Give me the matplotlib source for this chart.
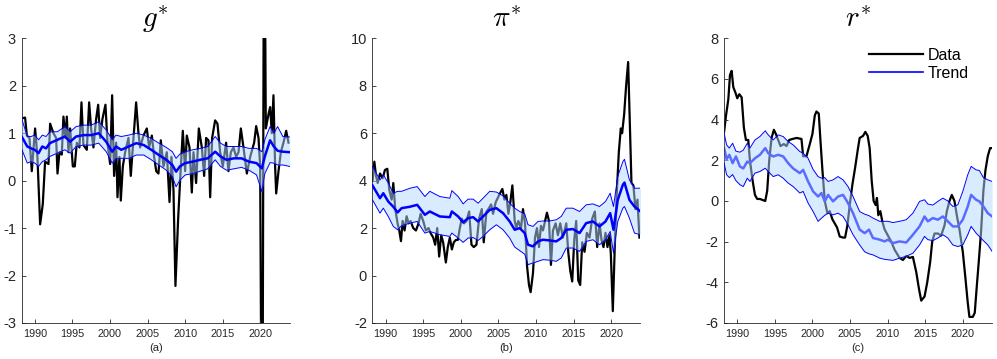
import matplotlib
matplotlib.use('Agg')
import matplotlib.pyplot as plt
from matplotlib.lines import Line2D

plt.rcParams['font.family'] = ['Liberation Sans', 'DejaVu Sans']
plt.rcParams['mathtext.fontset'] = 'cm'

# ---------------- g* (panel a) ----------------
g_years = [1988.25, 1988.71, 1988.94, 1989.29, 1989.60, 1990.04, 1990.35, 1990.71, 1991.06, 1991.37,
           1991.82, 1992.04, 1992.48, 1992.84, 1993.02, 1993.28, 1993.59, 1993.81, 1994.08, 1994.26,
           1994.48, 1994.70, 1995.06, 1995.32, 1995.59, 1995.94, 1996.21, 1996.47, 1996.92, 1997.23,
           1997.49, 1997.80, 1998.16, 1998.43, 1998.69, 1999.00, 1999.40, 1999.67, 2000.02, 2000.29,
           2000.55, 2000.82, 2001.00, 2001.26, 2001.44, 2001.71, 2002.02, 2002.46, 2002.77, 2003.13,
           2003.48, 2003.79, 2004.01, 2004.46, 2004.90, 2005.21, 2005.57, 2005.88, 2006.15, 2006.45,
           2006.76, 2007.12, 2007.56, 2007.92, 2008.18, 2008.45, 2008.71, 2009.07, 2009.33, 2009.69,
           2010.00, 2010.22, 2010.58, 2010.89, 2011.11, 2011.46, 2011.82, 2012.22, 2012.53, 2012.79,
           2013.10, 2013.33, 2013.59, 2013.99, 2014.30, 2014.66, 2015.01, 2015.45, 2015.76, 2016.08,
           2016.43, 2016.79, 2017.10, 2017.41, 2017.76, 2018.21, 2018.65, 2019.18, 2019.45, 2019.76,
           2019.98, 2020.25, 2020.51, 2020.73, 2021.09, 2021.31, 2021.53, 2021.75, 2021.97, 2022.11,
           2022.42, 2022.73, 2023.08, 2023.44, 2023.75]
g_data = [1.31, 1.33, 0.95, 0.90, 0.20, 1.10, 0.50, -0.92, -0.50, 0.40,
          0.35, 1.20, 1.00, 0.90, 0.15, 0.60, 0.55, 1.35, 0.90, 1.35,
          0.60, 1.10, 0.30, 0.30, 0.80, 0.70, 1.65, 0.75, 0.65, 1.65,
          1.10, 0.70, 1.30, 1.60, 0.90, 1.30, 1.60, 0.80, 0.35, 1.80,
          0.10, 0.80, -0.35, 0.50, -0.42, 0.30, 0.60, 0.90, 0.10, 0.90,
          1.65, 1.00, 0.70, 0.95, 1.10, 0.70, 0.95, 0.50, 0.20, 0.15,
          0.85, 0.30, 0.60, -0.45, 0.50, -0.20, -2.22, -0.80, 0.00, 1.05,
          0.20, 0.95, 0.70, -0.25, 0.60, -0.05, 1.10, 0.70, 0.10, 0.90,
          0.85, -0.35, 0.90, 1.27, 1.20, 0.60, 0.30, 0.80, 0.20, 0.60,
          0.70, 0.50, 0.60, 1.10, 0.70, 0.15, 0.50, 0.80, 1.15, 0.90,
          0.30, -8.00, 7.50, 1.10, 1.40, 1.55, 1.00, 1.80, 0.30, -0.27,
          0.20, 0.60, 0.80, 1.05, 0.80]
g_band_years = [1988.25, 1989.0, 1989.5, 1990.0, 1990.5, 1991.0, 1991.5, 1992.0, 1993.0, 1994.0,
                1994.7, 1995.5, 1996.5, 1997.5, 1998.5, 1999.5, 2000.3, 2000.8, 2001.5, 2002.5,
                2003.5, 2004.5, 2005.5, 2006.5, 2007.5, 2008.3, 2008.8, 2009.3, 2010.0, 2011.0,
                2012.0, 2013.0, 2014.0, 2014.7, 2015.5, 2016.5, 2017.5, 2018.5, 2019.5, 2020.2,
                2020.6, 2021.3, 2021.8, 2022.3, 2023.0, 2023.9]
g_trend = [0.93, 0.72, 0.68, 0.65, 0.58, 0.72, 0.68, 0.79, 0.86, 0.93,
           0.82, 0.93, 0.96, 0.96, 1.00, 0.82, 0.61, 0.72, 0.65, 0.72,
           0.79, 0.75, 0.65, 0.54, 0.44, 0.33, 0.19, 0.30, 0.37, 0.40,
           0.44, 0.47, 0.61, 0.51, 0.44, 0.47, 0.47, 0.40, 0.37, 0.26,
           0.51, 0.85, 0.72, 0.63, 0.61, 0.60]
g_upper = [1.31, 0.93, 0.93, 0.96, 0.86, 0.96, 0.93, 1.03, 1.03, 1.14,
           1.03, 1.14, 1.17, 1.17, 1.24, 1.07, 0.86, 0.96, 0.93, 0.96,
           1.00, 0.96, 0.89, 0.79, 0.70, 0.61, 0.47, 0.56, 0.61, 0.65,
           0.68, 0.72, 0.93, 0.79, 0.72, 0.72, 0.72, 0.68, 0.68, 0.61,
           0.86, 1.14, 1.00, 1.14, 0.93, 0.92]
g_lower = [0.67, 0.37, 0.40, 0.37, 0.30, 0.40, 0.44, 0.51, 0.58, 0.65,
           0.58, 0.72, 0.75, 0.75, 0.79, 0.61, 0.37, 0.47, 0.47, 0.47,
           0.54, 0.54, 0.44, 0.33, 0.22, 0.08, -0.13, 0.01, 0.12, 0.15,
           0.20, 0.25, 0.44, 0.30, 0.22, 0.25, 0.28, 0.22, 0.12, -0.23,
           0.15, 0.38, 0.37, 0.33, 0.33, 0.30]

# ---------------- pi* (panel b) ----------------
pi_years = [1988.27, 1988.50, 1988.72, 1988.94, 1989.25, 1989.60, 1989.91, 1990.22, 1990.49, 1990.80,
            1991.02, 1991.28, 1991.59, 1991.81, 1992.04, 1992.26, 1992.52, 1992.79, 1993.05, 1993.32,
            1993.67, 1994.03, 1994.38, 1994.65, 1995.00, 1995.35, 1995.71, 1995.97, 1996.33, 1996.59,
            1996.86, 1997.12, 1997.39, 1997.65, 1998.01, 1998.27, 1998.54, 1998.81, 1999.07, 1999.34,
            1999.60, 1999.87, 2000.13, 2000.44, 2000.75, 2001.11, 2001.42, 2001.73, 2002.08, 2002.43,
            2002.79, 2003.05, 2003.41, 2003.67, 2004.03, 2004.29, 2004.65, 2004.96, 2005.27, 2005.53,
            2005.80, 2006.06, 2006.33, 2006.59, 2006.86, 2007.17, 2007.39, 2007.65, 2008.01, 2008.27,
            2008.54, 2008.81, 2009.07, 2009.29, 2009.60, 2009.87, 2010.13, 2010.40, 2010.66, 2010.93,
            2011.28, 2011.46, 2011.73, 2011.99, 2012.26, 2012.61, 2012.92, 2013.23, 2013.58, 2014.03,
            2014.29, 2014.56, 2014.82, 2015.09, 2015.35, 2015.62, 2015.88, 2016.15, 2016.46, 2016.77,
            2017.12, 2017.48, 2017.83, 2018.14, 2018.45, 2018.72, 2018.98, 2019.25, 2019.51, 2019.78,
            2019.96, 2020.22, 2020.49, 2020.75, 2021.02, 2021.28, 2021.46, 2021.73, 2021.99, 2022.26,
            2022.52, 2022.70, 2022.96, 2023.23, 2023.50, 2023.76]
pi_data = [4.0, 4.8, 4.2, 3.9, 4.3, 4.1, 4.45, 4.5, 3.6, 3.2,
           3.9, 2.8, 2.2, 1.9, 1.45, 2.3, 1.9, 2.5, 2.2, 2.3,
           2.0, 1.9, 2.2, 2.6, 2.3, 1.9, 2.0, 1.8, 1.6, 1.3,
           2.0, 0.8, 1.7, 1.4, 0.55, 1.2, 1.6, 1.1, 1.4, 1.5,
           1.5, 2.0, 2.4, 2.2, 2.3, 2.7, 1.3, 1.2, 1.3, 2.4,
           2.8, 1.4, 2.7, 2.8, 3.0, 2.6, 3.1, 3.3, 3.5, 3.65,
           3.2, 3.4, 2.6, 3.1, 3.8, 2.3, 2.0, 2.3, 2.0, 2.8,
           2.2, 0.4, -0.4, -0.7, 0.1, 1.6, 2.0, 1.2, 2.1, 1.9,
           2.4, 2.65, 2.3, 0.45, 1.9, 2.2, 1.7, 2.2, 1.6, 2.2,
           1.0, 0.2, -0.25, 1.5, 2.3, -0.2, -0.4, 1.4, 1.0, 1.8,
           1.6, 2.4, 2.7, 1.2, 2.2, 1.5, 1.2, 1.8, 1.2, 1.7,
           0.9, -1.5, 1.3, 3.5, 5.2, 6.2, 6.0, 6.8, 8.0, 9.0,
           6.0, 3.9, 3.8, 2.8, 3.2, 1.6]
pi_band_years = [1988.25, 1989.25, 1989.69, 1990.35, 1991.02, 1991.59, 1992.12, 1993.23, 1994.20, 1995.22,
                 1995.88, 1997.21, 1998.54, 1998.81, 1999.65, 2000.31, 2000.97, 2001.64, 2002.30, 2002.96,
                 2003.85, 2004.73, 2005.62, 2006.50, 2007.17, 2007.83, 2008.50, 2008.94, 2009.60, 2010.27,
                 2010.93, 2011.81, 2012.70, 2013.36, 2014.03, 2014.91, 2015.80, 2016.68, 2017.57, 2018.45,
                 2019.25, 2019.87, 2020.31, 2020.88, 2021.55, 2021.77, 2022.43, 2023.10, 2023.90]
pi_trend = [3.80, 3.26, 3.47, 3.12, 2.90, 2.66, 2.84, 2.90, 2.98, 2.56,
            2.70, 2.49, 2.46, 2.70, 2.49, 2.24, 2.42, 2.46, 2.28, 2.49,
            2.77, 2.84, 2.63, 2.28, 1.93, 2.00, 1.79, 1.30, 1.23, 1.44,
            1.51, 1.48, 1.44, 1.58, 1.93, 1.96, 1.79, 2.21, 2.28, 2.07,
            2.28, 2.63, 1.93, 3.19, 3.82, 3.92, 3.19, 2.91, 2.70]
pi_upper = [4.60, 4.03, 4.25, 3.90, 3.47, 3.55, 3.55, 3.68, 3.75, 3.33,
            3.55, 3.33, 3.26, 3.58, 3.33, 3.02, 3.22, 3.22, 3.05, 3.26,
            3.55, 3.52, 3.36, 3.05, 2.84, 2.70, 2.60, 2.14, 2.07, 2.28,
            2.30, 2.30, 2.35, 2.49, 2.84, 2.84, 2.70, 2.98, 3.02, 2.91,
            3.12, 3.47, 2.91, 4.18, 4.80, 4.90, 4.03, 3.68, 3.68]
pi_lower = [3.19, 2.63, 2.84, 2.49, 2.07, 1.93, 2.10, 2.21, 2.28, 1.79,
            1.86, 1.72, 1.65, 1.79, 1.58, 1.40, 1.58, 1.60, 1.48, 1.65,
            1.93, 2.14, 1.93, 1.58, 1.20, 1.05, 0.90, 0.46, 0.53, 0.60,
            0.67, 0.65, 0.60, 0.74, 1.16, 1.16, 1.02, 1.44, 1.51, 1.30,
            1.51, 1.86, 0.95, 2.28, 2.84, 2.91, 2.42, 1.79, 1.72]

# ---------------- r* (panel c) ----------------
r_years = [1988.25, 1988.50, 1988.81, 1989.03, 1989.25, 1989.47, 1989.78, 1990.00, 1990.27, 1990.58,
           1990.88, 1991.15, 1991.46, 1991.68, 1992.04, 1992.35, 1992.65, 1993.01, 1993.36, 1993.72,
           1993.98, 1994.25, 1994.56, 1994.87, 1995.13, 1995.44, 1995.75, 1996.19, 1996.55, 1996.90,
           1997.35, 1997.88, 1998.54, 1998.76, 1999.20, 1999.65, 2000.00, 2000.31, 2000.53, 2000.84,
           2001.06, 2001.33, 2001.64, 2001.99, 2002.30, 2002.65, 2002.96, 2003.27, 2003.63, 2004.07,
           2004.34, 2004.65, 2004.96, 2005.31, 2005.66, 2006.02, 2006.28, 2006.73, 2007.04, 2007.35,
           2007.61, 2007.88, 2008.14, 2008.41, 2008.58, 2008.76, 2009.03, 2009.29, 2009.60, 2010.04,
           2010.49, 2010.93, 2011.59, 2012.04, 2012.48, 2012.92, 2013.36, 2013.81, 2014.16, 2014.47,
           2014.91, 2015.27, 2015.66, 2015.93, 2016.24, 2016.68, 2017.12, 2017.57, 2017.88, 2018.23,
           2018.54, 2018.89, 2019.25, 2019.56, 2020.00, 2020.35, 2020.66, 2020.88, 2021.33, 2021.59,
           2021.86, 2022.12, 2022.43, 2022.74, 2023.01, 2023.32, 2023.63, 2023.90]
r_data = [3.4, 4.2, 5.0, 6.2, 6.4, 5.6, 5.3, 5.05, 5.25, 5.1,
          3.6, 3.0, 3.0, 2.0, 1.0, 0.3, 0.1, 0.1, 0.05, 0.0,
          0.5, 2.0, 3.1, 3.5, 3.3, 3.0, 2.7, 2.8, 2.7, 3.0,
          3.05, 3.1, 3.05, 2.2, 2.2, 2.8, 3.3, 4.2, 4.4, 4.3,
          3.0, 1.5, 0.0, -0.6, -0.5, -0.9, -1.1, -1.3, -1.75, -1.8,
          -1.8, -1.2, -0.2, 0.8, 1.6, 2.5, 3.1, 3.2, 3.4, 3.2,
          2.6, 1.0, 0.0, -0.2, 0.15, -0.7, -0.5, -1.0, -1.4, -1.7,
          -2.0, -2.4, -2.8, -2.9, -2.7, -2.8, -2.75, -3.5, -4.3, -4.9,
          -4.7, -4.0, -3.0, -2.0, -1.6, -1.6, -1.7, -1.2, -0.5, 0.0,
          0.3, 0.0, -0.8, -1.4, -2.5, -3.8, -5.0, -5.7, -5.7, -5.5,
          -4.2, -3.0, -1.5, 0.5, 1.5, 2.2, 2.6, 2.6]
r_band_years = [1988.25, 1988.58, 1988.94, 1989.38, 1989.82, 1990.35, 1990.80, 1991.33, 1991.68, 1992.35,
                1993.01, 1993.72, 1994.12, 1994.78, 1995.44, 1996.11, 1996.77, 1997.43, 1998.32, 1998.76,
                1999.42, 2000.09, 2000.75, 2001.19, 2001.64, 2002.08, 2002.74, 2003.41, 2004.07, 2004.73,
                2005.40, 2006.28, 2006.95, 2007.52, 2008.05, 2008.94, 2009.60, 2010.04, 2010.71, 2011.59,
                2012.48, 2013.36, 2014.25, 2014.91, 2015.35, 2016.02, 2016.68, 2017.35, 2018.01, 2018.67,
                2019.34, 2020.00, 2020.66, 2021.11, 2021.77, 2022.21, 2022.74, 2023.32, 2023.90]
r_trend = [2.60, 2.05, 2.27, 1.86, 2.19, 1.70, 1.60, 1.94, 1.86, 2.10,
           2.27, 2.60, 2.35, 2.19, 2.27, 2.19, 1.86, 1.60, 1.37, 1.53,
           0.96, 0.47, 0.22, 0.39, -0.02, 0.30, -0.02, 0.22, 0.30, -0.10,
           -0.60, -1.41, -1.58, -1.41, -1.82, -1.90, -1.99, -1.90, -2.07, -1.99,
           -2.04, -1.66, -1.25, -0.76, -1.00, -0.84, -0.92, -0.76, -1.00, -1.25,
           -1.25, -0.92, -0.27, 0.30, 0.06, -0.02, -0.27, -0.60, -0.76]
r_upper = [3.33, 2.76, 2.60, 2.84, 2.45, 2.40, 2.50, 2.84, 2.60, 3.00,
           3.17, 3.45, 3.25, 3.00, 3.25, 3.17, 2.92, 2.76, 2.43, 2.35,
           2.10, 1.55, 1.20, 1.12, 1.15, 0.96, 1.04, 1.20, 1.04, 0.71,
           0.22, -0.52, -0.65, -0.72, -0.84, -1.00, -1.00, -1.00, -1.06, -1.00,
           -0.92, -0.60, -0.02, 0.06, -0.15, -0.20, -0.02, 0.14, 0.00, -0.27,
           -0.19, 0.47, 1.29, 1.70, 1.53, 1.50, 1.15, 1.04, 0.96]
r_lower = [1.86, 1.29, 1.15, 1.30, 1.00, 0.80, 0.71, 1.12, 0.96, 1.37,
           1.45, 1.61, 1.45, 1.20, 1.29, 1.12, 0.88, 0.71, 0.39, 0.47,
           -0.10, -0.52, -1.00, -0.85, -0.70, -0.60, -0.68, -0.60, -0.76, -1.17,
           -1.66, -2.16, -2.50, -2.60, -2.65, -2.81, -2.87, -2.89, -2.92, -2.81,
           -2.72, -2.57, -2.16, -1.74, -1.90, -1.95, -1.82, -1.66, -1.82, -2.16,
           -2.24, -2.16, -1.66, -1.25, -1.58, -1.75, -1.95, -2.16, -2.48]

x_ticks = [1990, 1995, 2000, 2005, 2010, 2015, 2020]

fig = plt.figure(figsize=(9.97, 3.59), dpi=100)

fill_col = (0.7, 0.85, 1.0)
axis_col = '#262626'


def draw_panel(pos, years, data, byears, trend, upper, lower, title, sub, yticks, trend_under):
    ax = fig.add_axes(pos)
    ax.plot(years, data, color='black', lw=1.6, zorder=1)
    if trend_under:
        ax.plot(byears, trend, color='blue', lw=1.8, zorder=2)
    ax.fill_between(byears, lower, upper, color=fill_col, alpha=0.5, lw=0, zorder=3)
    ax.plot(byears, upper, color='blue', lw=0.7, zorder=4)
    ax.plot(byears, lower, color='blue', lw=0.7, zorder=4)
    if not trend_under:
        ax.plot(byears, trend, color='blue', lw=1.8, zorder=5)
    ax.set_xlim(1988.25, 2023.9)
    ax.set_ylim(yticks[0], yticks[-1])
    ax.set_yticks(yticks)
    ax.set_yticklabels([str(v) for v in yticks])
    ax.set_xticks(x_ticks)
    ax.tick_params(axis='y', direction='in', length=3, width=0.6, labelsize=10.5, pad=4,
                   colors=axis_col)
    ax.tick_params(axis='x', direction='in', length=3, width=0.6, labelsize=7.8, pad=4,
                   colors=axis_col)
    for s in ['top', 'right']:
        ax.spines[s].set_visible(False)
    for s in ['left', 'bottom']:
        ax.spines[s].set_color(axis_col)
        ax.spines[s].set_linewidth(0.6)
    ax.set_title(title, fontsize=21, pad=8)
    ax.set_xlabel(sub, fontsize=8, labelpad=3, color=axis_col)
    return ax


draw_panel([0.0217, 0.1003, 0.2688, 0.793], g_years, g_data, g_band_years, g_trend, g_upper,
           g_lower, r'$g^{*}$', '(a)', [-3, -2, -1, 0, 1, 2, 3], False)
draw_panel([0.3736, 0.1003, 0.2688, 0.793], pi_years, pi_data, pi_band_years, pi_trend, pi_upper,
           pi_lower, r'$\pi^{*}$', '(b)', [-2, 0, 2, 4, 6, 8, 10], False)
ax3 = draw_panel([0.7263, 0.1003, 0.2688, 0.793], r_years, r_data, r_band_years, r_trend, r_upper,
                 r_lower, r'$r^{*}$', '(c)', [-6, -4, -2, 0, 2, 4, 6, 8], True)

handles = [Line2D([], [], color='black', lw=1.6), Line2D([], [], color='blue', lw=1.2)]
ax3.legend(handles, ['Data', 'Trend'], loc='upper right', bbox_to_anchor=(0.95, 1.0),
           frameon=False, fontsize=11.5, handlelength=3.4, handletextpad=0.3, labelspacing=0.2,
           borderaxespad=0.2)

fig.savefig('out.png', dpi=100)
